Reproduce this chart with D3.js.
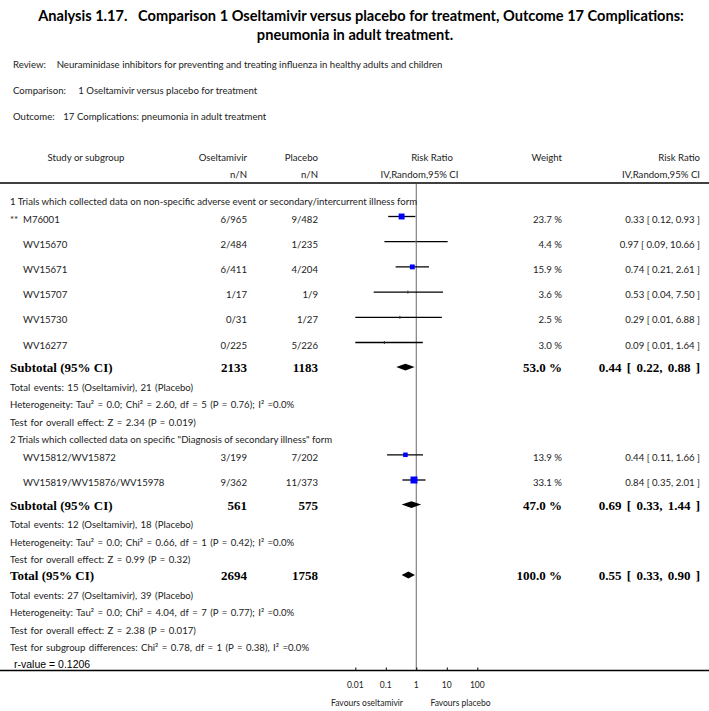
<!DOCTYPE html>
<html><head><meta charset="utf-8">
<script src="https://cdn.jsdelivr.net/npm/d3@7"></script>
<style>body{margin:0;background:#fff}svg{display:block}</style>
</head><body><svg id="c" width="709" height="711"></svg>
<script>
// ---------------- data ----------------
const titleLines = ["Analysis 1.17.   Comparison 1 Oseltamivir versus placebo for treatment, Outcome 17 Complications:", "pneumonia in adult treatment."];
const metaLabels = ["Review:", "Comparison:", "Outcome:"];
const metaTexts = ["Neuraminidase inhibitors for preventing and treating influenza in healthy adults and children", "1 Oseltamivir versus placebo for treatment", "17 Complications: pneumonia in adult treatment"];

const group1Label = "1 Trials which collected data on non-specific adverse event or secondary/intercurrent illness form";
const studies1 = ["** M76001", "WV15670", "WV15671", "WV15707", "WV15730", "WV16277"];
const ose1 = ["6/965", "2/484", "6/411", "1/17", "0/31", "0/225"];
const pla1 = ["9/482", "1/235", "4/204", "1/9", "1/27", "5/226"];
const weight1 = [23.7, 4.4, 15.9, 3.6, 2.5, 3.0];
const rr1 = [0.33, 0.97, 0.74, 0.53, 0.29, 0.09];
const lo1 = [0.12, 0.09, 0.21, 0.04, 0.01, 0.01];
const hi1 = [0.93, 10.66, 2.61, 7.50, 6.88, 1.64];
const sub1 = {ose: "2133", pla: "1183", weight: 53.0, rr: 0.44, lo: 0.22, hi: 0.88};
const notes1 = ["Total events: 15 (Oseltamivir), 21 (Placebo)",
  "Heterogeneity: Tau² = 0.0; Chi² = 2.60, df = 5 (P = 0.76); I² =0.0%",
  "Test for overall effect: Z = 2.34 (P = 0.019)"];

const group2Label = "2 Trials which collected data on specific \"Diagnosis of secondary illness\" form";
const studies2 = ["WV15812/WV15872", "WV15819/WV15876/WV15978"];
const ose2 = ["3/199", "9/362"];
const pla2 = ["7/202", "11/373"];
const weight2 = [13.9, 33.1];
const rr2 = [0.44, 0.84];
const lo2 = [0.11, 0.35];
const hi2 = [1.66, 2.01];
const sub2 = {ose: "561", pla: "575", weight: 47.0, rr: 0.69, lo: 0.33, hi: 1.44};
const notes2 = ["Total events: 12 (Oseltamivir), 18 (Placebo)",
  "Heterogeneity: Tau² = 0.0; Chi² = 0.66, df = 1 (P = 0.42); I² =0.0%",
  "Test for overall effect: Z = 0.99 (P = 0.32)"];

const total = {ose: "2694", pla: "1758", weight: 100.0, rr: 0.55, lo: 0.33, hi: 0.90};
const notesTotal = ["Total events: 27 (Oseltamivir), 39 (Placebo)",
  "Heterogeneity: Tau² = 0.0; Chi² = 4.04, df = 7 (P = 0.77); I² =0.0%",
  "Test for overall effect: Z = 2.38 (P = 0.017)",
  "Test for subgroup differences: Chi² = 0.78, df = 1 (P = 0.38), I² =0.0%"];
const rValue = "r-value = 0.1206";

const tickValues = [0.01, 0.1, 1, 10, 100];
const tickLabels = ["0.01", "0.1", "1", "10", "100"];
const favoursLeft = "Favours oseltamivir";
const favoursRight = "Favours placebo";

// ---------------- layout ----------------
const W = 709;
const svg = d3.select("#c");
const sans = "Lato, 'Open Sans', sans-serif";
const serif = "'Liberation Serif', 'DejaVu Serif', serif";
const txtCol = "#222";
const bodySize = 9.6;

const x = d3.scaleLog().domain([0.01, 100]).range([355.3, 477.3]);
const boxSize = d3.scaleSqrt().domain([0, 33.1]).range([0, 7]);

const colStudy = 10, colStudyIndent = 23, colOse = 247, colPla = 318, colW = 562, colRR = 700;

// title
svg.selectAll("text.title").data(titleLines).join("text")
  .attr("x", (d, i) => i === 0 ? 361 : 355).attr("y", (d, i) => 21 + i * 18.5)
  .attr("text-anchor", "middle").attr("font-family", sans).attr("font-weight", 700)
  .attr("font-size", 14.6).attr("fill", "#000").attr("xml:space", "preserve").text(d => d);

// meta lines
const metaX = [56.7, 78.3, 63.3];
metaLabels.forEach((l, i) => {
  const y = 67.5 + i * 26;
  svg.append("text").attr("x", 13).attr("y", y).attr("font-family", sans).attr("font-size", bodySize).attr("fill", txtCol).text(l);
  svg.append("text").attr("x", metaX[i]).attr("y", y).attr("font-family", sans).attr("font-size", bodySize).attr("fill", txtCol).text(metaTexts[i]);
});

// header
function t(xp, y, s, anchor, opts = {}) {
  return svg.append("text").attr("x", xp).attr("y", y).attr("text-anchor", anchor || "start")
    .attr("font-family", opts.family || sans).attr("font-size", opts.size || bodySize)
    .attr("font-weight", opts.weight || 400).attr("fill", opts.fill || txtCol)
    .attr("word-spacing", opts.ws || 0).text(s);
}
t(86, 160.5, "Study or subgroup", "middle");
t(colOse, 160.5, "Oseltamivir", "end");
t(colOse, 177.5, "n/N", "end");
t(colPla, 160.5, "Placebo", "end");
t(colPla, 177.5, "n/N", "end");
t(432, 160.5, "Risk Ratio", "middle");
t(419.5, 177.5, "IV,Random,95% CI", "middle");
t(colW, 160.5, "Weight", "end");
t(colRR, 160.5, "Risk Ratio", "end");
t(colRR, 177.5, "IV,Random,95% CI", "end");
svg.append("line").attr("x1", 0).attr("x2", W).attr("y1", 183).attr("y2", 183).attr("stroke", "#000").attr("stroke-width", 1.6);

// rows
const rows = [];
rows.push({type: "group", text: group1Label});
studies1.forEach((s, i) => rows.push({type: "study", name: s, ose: ose1[i], pla: pla1[i], weight: weight1[i], rr: rr1[i], lo: lo1[i], hi: hi1[i]}));
rows.push(Object.assign({type: "sub", name: "Subtotal (95% CI)"}, sub1));
notes1.forEach(n => rows.push({type: "text", text: n}));
rows.push({type: "group", text: group2Label});
studies2.forEach((s, i) => rows.push({type: "study", name: s, ose: ose2[i], pla: pla2[i], weight: weight2[i], rr: rr2[i], lo: lo2[i], hi: hi2[i]}));
rows.push(Object.assign({type: "sub", name: "Subtotal (95% CI)"}, sub2));
notes2.forEach(n => rows.push({type: "text", text: n}));
rows.push(Object.assign({type: "total", name: "Total (95% CI)"}, total));
notesTotal.forEach(n => rows.push({type: "text", text: n}));
rows.push({type: "rvalue", text: rValue});

function gap(a, b) {
  if (a === "group" && b === "study") return 15;
  if (a === "study" && b === "study") return 25.2;
  if (a === "study" && b === "sub") return 24.6;
  if ((a === "sub" || a === "total") && b === "text") return 20.3;
  if (a === "text" && b === "text") return 17.4;
  if (a === "text" && b === "group") return 17.6;
  if (a === "text" && b === "total") return 15.3;
  if (a === "text" && b === "rvalue") return 16.3;
  return 18;
}
let yy = 201.5;
rows.forEach((r, i) => { if (i > 0) yy += gap(rows[i - 1].type, r.type); r.y = yy; });

const fmt2 = d3.format(".2f");
const ciText = r => `${fmt2(r.rr)} [ ${fmt2(r.lo)}, ${fmt2(r.hi)} ]`;

// reference line (no effect)
svg.append("line").attr("x1", x(1)).attr("x2", x(1)).attr("y1", 184).attr("y2", 670)
  .attr("stroke", "#808080").attr("stroke-width", 1.2);

rows.forEach(r => {
  if (r.type === "group") {
    t(colStudy, r.y + 3.5, r.text, "start");
  } else if (r.type === "text") {
    t(colStudy, r.y + 3.5, r.text, "start", {ws: 1});
  } else if (r.type === "rvalue") {
    t(14, r.y + 4, r.text, "start", {family: "'Liberation Sans', Arial, sans-serif", size: 10.5, fill: "#000"});
  } else if (r.type === "study") {
    const by = r.y + 6;
    if (r.name.startsWith("**")) {
      t(colStudy, by, "**", "start");
      t(colStudyIndent, by, r.name.replace(/^\*\*\s*/, ""), "start");
    } else {
      t(colStudyIndent, by, r.name, "start");
    }
    t(colOse, by, r.ose, "end");
    t(colPla, by, r.pla, "end");
    t(colW, by, `${r.weight.toFixed(1)} %`, "end");
    t(colRR, by, ciText(r), "end");
    svg.append("line").attr("x1", x(r.lo)).attr("x2", x(r.hi)).attr("y1", r.y).attr("y2", r.y)
      .attr("stroke", "#000").attr("stroke-width", 1.3);
    const s = boxSize(r.weight);
    if (r.weight >= 5) {
      svg.append("rect").attr("x", x(r.rr) - s / 2).attr("y", r.y - s / 2).attr("width", s).attr("height", s).attr("fill", "#0000ff");
    } else {
      svg.append("line").attr("x1", x(r.rr)).attr("x2", x(r.rr)).attr("y1", r.y - 1.5).attr("y2", r.y + 1.5)
        .attr("stroke", r.weight > 4 ? "#999" : "#333").attr("stroke-width", 1);
    }
  } else {
    const by = r.y + 5;
    const o = {family: serif, size: 13, weight: 700, fill: "#000"};
    t(colStudy, by, r.name, "start", o);
    t(colOse, by, r.ose, "end", o);
    t(colPla, by, r.pla, "end", o);
    t(colW, by, `${r.weight.toFixed(1)} %`, "end", o);
    t(colRR, by, ciText(r), "end", Object.assign({ws: 2}, o));
    const h = 3.4;
    svg.append("path").attr("d", `M${x(r.lo)},${r.y} L${x(r.rr)},${r.y - h} L${x(r.hi)},${r.y} L${x(r.rr)},${r.y + h} Z`)
      .attr("fill", "#000");
  }
});

// bottom axis
const axisY = 670.5;
svg.append("line").attr("x1", 0).attr("x2", W).attr("y1", axisY).attr("y2", axisY).attr("stroke", "#000").attr("stroke-width", 1.6);
const ax = svg.append("g").attr("transform", `translate(0,${axisY})`)
  .call(d3.axisTop(x).tickValues(tickValues).tickSize(3).tickFormat(() => ""));
ax.select(".domain").remove();
ax.selectAll(".tick line").attr("stroke", "#000");
svg.selectAll("text.tl").data(tickValues).join("text").attr("class", "tl")
  .attr("x", d => x(d)).attr("y", 688).attr("text-anchor", "middle")
  .attr("font-family", sans).attr("font-size", 8.5).attr("fill", txtCol)
  .text((d, i) => tickLabels[i]);
t(367, 706, favoursLeft, "middle", {size: 8.5});
t(460.5, 706, favoursRight, "middle", {size: 8.5});
</script></body></html>
